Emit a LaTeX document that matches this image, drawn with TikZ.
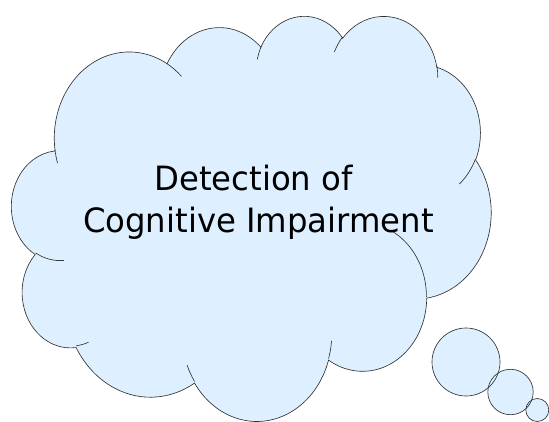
\documentclass[tikz,border=0pt]{standalone}
\usepackage{fontspec}
\setmainfont{DejaVu Sans}[FakeStretch=0.965]
\definecolor{cloudfill}{RGB}{222,240,255}
\definecolor{cloudline}{RGB}{50,50,50}
\def\sx{1.10949}
\def\sy{0.9375}
% OOXML-style arcTo: #1 id, #2 wR, #3 hR (path units/100), #4 start angle, #5 sweep (deg)
\newcommand\ooarc[5]{%
  \pgfmathsetmacro\oaT{atan2(#2*sin(#4),#3*cos(#4))}%
  \pgfmathsetmacro\oaU{atan2(#2*sin(#4+#5),#3*cos(#4+#5))}%
  \pgfmathsetmacro\oaD{mod(\oaU-\oaT+720,360)}%
  \pgfmathsetmacro\oaS{-\oaT}%
  \pgfmathsetmacro\oaE{-\oaD}%
  \pgfmathsetmacro\oaX{#2*\sx}%
  \pgfmathsetmacro\oaY{#3*\sy}%
  \expandafter\global\expandafter\let\csname oa#1S\endcsname\oaS
  \expandafter\global\expandafter\let\csname oa#1D\endcsname\oaE
  \expandafter\global\expandafter\let\csname oa#1X\endcsname\oaX
  \expandafter\global\expandafter\let\csname oa#1Y\endcsname\oaY
}
\newcommand\oav[2]{\csname oa#1#2\endcsname}
\ooarc{1}{67.53}{91.90}{-190.487483}{123.780533}
\ooarc{2}{53.33}{72.67}{-144.102383}{89.945233}
\ooarc{3}{43.65}{59.45}{-145.807917}{99.723017}
\ooarc{4}{48.57}{65.95}{-130.986067}{117.241733}
\ooarc{5}{53.33}{72.73}{-78.708883}{109.026917}
\ooarc{6}{67.75}{92.20}{-46.26725}{130.269}
\ooarc{7}{57.85}{78.67}{0.625017}{114.033333}
\ooarc{8}{67.52}{92.15}{22.4516}{115.17255}
\ooarc{9}{77.20}{105.43}{66.242633}{75.711017}
\ooarc{10}{43.60}{59.18}{-274.942083}{146.735567}
\ooarc{11}{43.45}{59.45}{-246.8285}{152.51885}
\ooarc{a}{43.45}{59.45}{86.742}{26.4295}
\ooarc{b}{43.60}{59.18}{73.610467}{11.447467}
\ooarc{c}{67.52}{92.15}{137.62415}{14.0811}
\ooarc{d}{67.52}{92.15}{6.453267}{15.99835}
\ooarc{e}{57.85}{78.67}{-70.29235}{70.917367}
\ooarc{f}{53.33}{72.73}{30.318033}{27.7515}
\ooarc{g}{48.57}{65.95}{-13.744333}{14.8589}
\ooarc{h}{48.57}{65.95}{-149.18145}{18.195367}
\ooarc{i}{43.65}{59.45}{-163.494267}{17.68635}
\ooarc{j}{67.53}{91.90}{-66.70695}{12.31935}
\ooarc{k}{67.53}{91.90}{157.65435}{11.858167}
\tikzset{
  oa/.style={start angle=\oav{#1}{S}, delta angle=\oav{#1}{D},
             x radius=\oav{#1}{X}pt, y radius=\oav{#1}{Y}pt},
  outline/.style={draw=cloudline, line width=0.65pt},
  lbl/.style={font=\fontsize{33.5}{40}\selectfont, inner sep=0pt, text=black}
}
\begin{document}
\begin{tikzpicture}[x=1pt,y=1pt]
\useasboundingbox (0,0) rectangle (549,-421);
\fill[white] (0,0) rectangle (549,-421);
\begin{scope}[shift={(11.7,-15)}, x=1.10949pt, y=-0.9375pt]
  \path[fill=cloudfill, outline]
    (39.00,143.70)
    arc[oa=1] arc[oa=2] arc[oa=3] arc[oa=4] arc[oa=5] arc[oa=6]
    arc[oa=7] arc[oa=8] arc[oa=9] arc[oa=10] arc[oa=11] -- cycle;
  \path[outline]
    (46.93,261.77) arc[oa=a]
    (69.28,348.99) arc[oa=b]
    (164.78,390.90) arc[oa=c]
    (288.27,347.51) arc[oa=d]
    (341.29,229.54) arc[oa=e]
    (417.98,153.54) arc[oa=f]
    (383.24,54.26) arc[oa=g]
    (290.78,39.52) arc[oa=h]
    (221.41,47.20) arc[oa=i]
    (140.00,51.92) arc[oa=j]
    (41.27,157.89) arc[oa=k];
\end{scope}
% thought bubbles
\fill[cloudfill] (466,-362) circle[radius=34];
\fill[cloudfill] (510.5,-392) circle[radius=22.7];
\fill[cloudfill] (537.3,-410) circle[radius=11.5];
\draw[outline] (466,-362) circle[radius=34];
\draw[outline] (510.5,-392) circle[radius=22.7];
\draw[outline] (537.3,-410) circle[radius=11.5];
% text
\node[lbl, anchor=base] (l1) at (253.5,-190) {Detection of};
\node[lbl, anchor=base] (l2) at (258.5,-232.5) {Cognitive Impairment};
\end{tikzpicture}
\end{document}
